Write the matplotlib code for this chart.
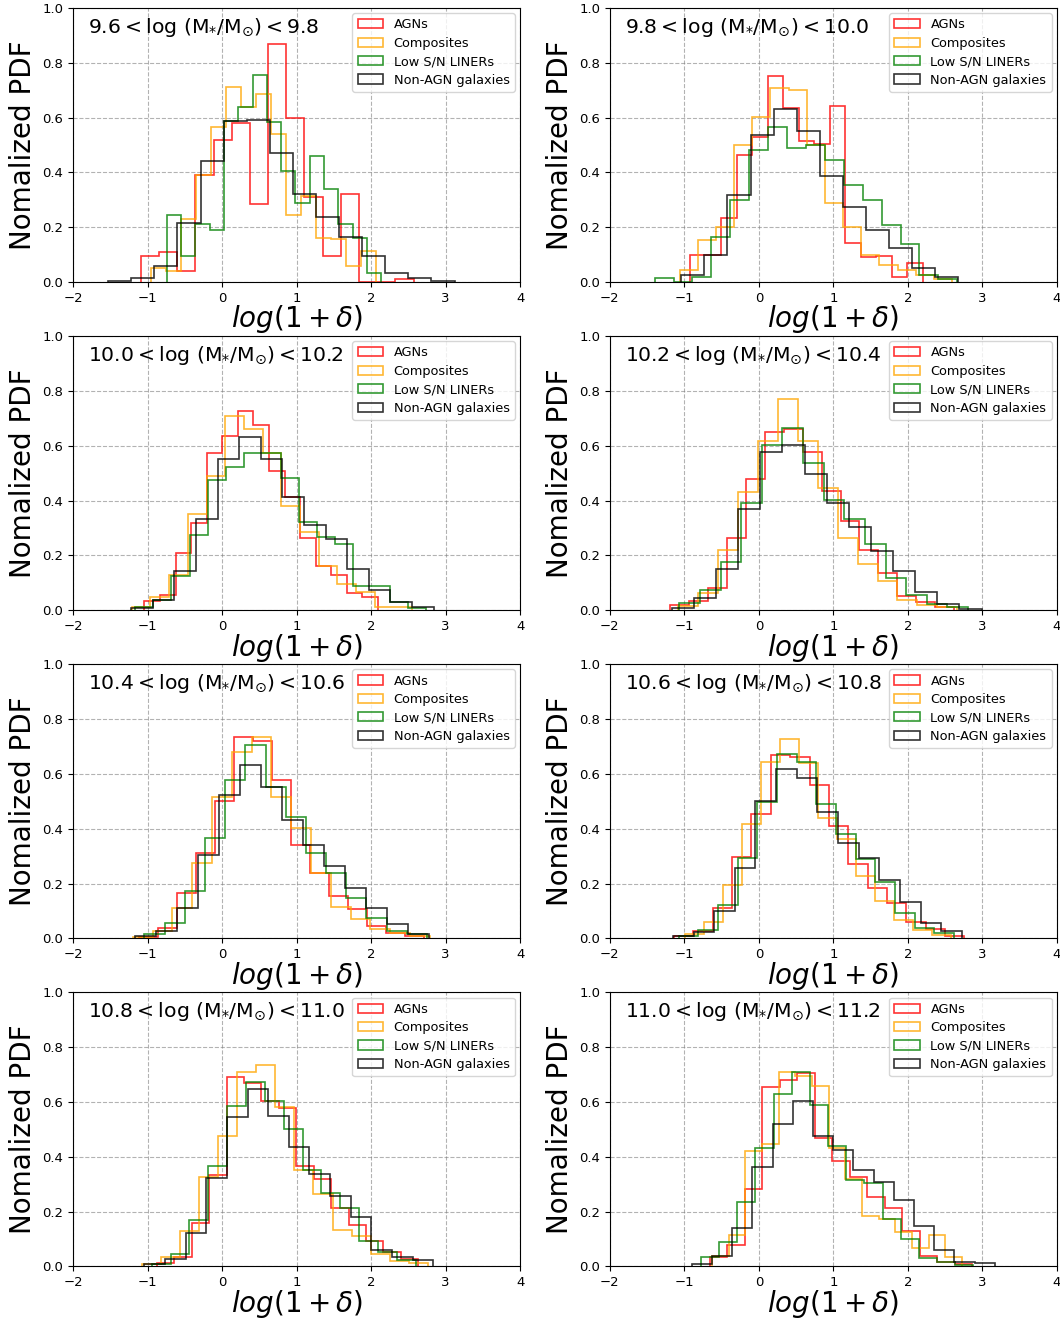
import numpy as np
import matplotlib
matplotlib.use("Agg")
import matplotlib.pyplot as plt


# stellar mass bins (one panel each)
mass_lo = [9.6, 9.8, 10.0, 10.2, 10.4, 10.6, 10.8, 11.0]
mass_hi = [9.8, 10.0, 10.2, 10.4, 10.6, 10.8, 11.0, 11.2]

labels = ["AGNs", "Composites", "Low S/N LINERs", "Non-AGN galaxies"]
colors = ["red", "orange", "green", "black"]

# left edge of first bin, bin width, normalized PDF per bin
agn_start = [-1.09, -0.922, -1.043, -1.19, -1.11, -1.14, -0.877, -0.662]
agn_width = [0.244, 0.208, 0.209, 0.254, 0.255, 0.26, 0.234, 0.235]
agn_pdf = [
    [0.094, 0.108, 0.039, 0.39, 0.52, 0.58, 0.286, 0.87, 0.6, 0.31, 0.094, 0.32, 0, 0, 0.012],
    [0.1, 0.1, 0.234, 0.465, 0.528, 0.75, 0.635, 0.516, 0.504, 0.644, 0.142, 0.09, 0.096, 0.018, 0.069],
    [0.033, 0.057, 0.207, 0.319, 0.572, 0.637, 0.726, 0.674, 0.507, 0.414, 0.264, 0.16, 0.13, 0.061, 0.047],
    [0.018, 0.033, 0.082, 0.264, 0.48, 0.651, 0.662, 0.578, 0.434, 0.325, 0.221, 0.136, 0.05, 0.03, 0.012],
    [0.005, 0.039, 0.167, 0.313, 0.501, 0.735, 0.72, 0.578, 0.339, 0.24, 0.155, 0.106, 0.045, 0.021, 0.01],
    [0.01, 0.027, 0.112, 0.298, 0.455, 0.669, 0.66, 0.56, 0.41, 0.27, 0.185, 0.13, 0.06, 0.035, 0.01],
    [0.012, 0.035, 0.16, 0.333, 0.692, 0.669, 0.605, 0.577, 0.367, 0.319, 0.212, 0.152, 0.094, 0.051, 0.027],
    [0.033, 0.079, 0.282, 0.656, 0.681, 0.706, 0.467, 0.386, 0.325, 0.255, 0.213, 0.13, 0.039, 0.015, 0.008],
]

comp_start = [-0.953, -1.065, -1.213, -1.087, -1.2, -0.989, -1.078, -0.631]
comp_width = [0.201, 0.244, 0.251, 0.268, 0.266, 0.255, 0.256, 0.224]
comp_pdf = [
    [0.05, 0.04, 0.23, 0.39, 0.567, 0.71, 0.637, 0.686, 0.54, 0.246, 0.313, 0.16, 0.158, 0.06, 0.112],
    [0.045, 0.152, 0.2, 0.5, 0.602, 0.708, 0.702, 0.5, 0.29, 0.2, 0.1, 0.063, 0.045, 0.027, 0.012],
    [0.011, 0.047, 0.13, 0.352, 0.49, 0.708, 0.66, 0.572, 0.38, 0.285, 0.16, 0.097, 0.066, 0.012, 0.01],
    [0.017, 0.063, 0.218, 0.43, 0.617, 0.769, 0.617, 0.444, 0.264, 0.167, 0.108, 0.039, 0.019, 0.01],
    [0.005, 0.027, 0.112, 0.274, 0.516, 0.678, 0.735, 0.516, 0.404, 0.24, 0.116, 0.069, 0.033, 0.02, 0.01],
    [0.015, 0.06, 0.195, 0.416, 0.645, 0.726, 0.641, 0.44, 0.364, 0.227, 0.136, 0.067, 0.029, 0.012],
    [0.01, 0.033, 0.128, 0.327, 0.477, 0.708, 0.735, 0.583, 0.352, 0.266, 0.134, 0.112, 0.047, 0.021, 0.011],
    [0.039, 0.116, 0.42, 0.446, 0.708, 0.696, 0.66, 0.434, 0.319, 0.185, 0.175, 0.124, 0.066, 0.114, 0.033],
]

liner_start = [-0.743, -1.40, -1.168, -1.069, -1.043, -1.078, -0.944, -0.779]
liner_width = [0.192, 0.254, 0.244, 0.277, 0.271, 0.264, 0.253, 0.244]
liner_pdf = [
    [0.246, 0.096, 0.213, 0.19, 0.586, 0.64, 0.757, 0.583, 0.406, 0.288, 0.459, 0.34, 0.21, 0.16, 0.033],
    [0.015, 0.0, 0.02, 0.163, 0.298, 0.48, 0.566, 0.489, 0.499, 0.444, 0.353, 0.298, 0.207, 0.14, 0.027, 0.01],
    [0.01, 0.039, 0.124, 0.274, 0.474, 0.523, 0.572, 0.572, 0.483, 0.321, 0.266, 0.243, 0.09, 0.088, 0.03, 0.008],
    [0.027, 0.075, 0.175, 0.392, 0.602, 0.663, 0.538, 0.401, 0.333, 0.24, 0.116, 0.055, 0.024, 0.01],
    [0.015, 0.057, 0.173, 0.367, 0.577, 0.706, 0.552, 0.443, 0.313, 0.24, 0.148, 0.075, 0.027, 0.017],
    [0.01, 0.029, 0.122, 0.294, 0.499, 0.672, 0.645, 0.491, 0.38, 0.29, 0.207, 0.094, 0.039, 0.021],
    [0.01, 0.045, 0.17, 0.365, 0.586, 0.672, 0.602, 0.501, 0.352, 0.268, 0.215, 0.094, 0.051, 0.023],
    [0.035, 0.088, 0.234, 0.431, 0.629, 0.708, 0.59, 0.438, 0.315, 0.304, 0.175, 0.1, 0.03, 0.017, 0.005],
]

nonagn_start = [-1.53, -1.042, -1.221, -1.168, -1.168, -1.154, -1.043, -0.899]
nonagn_width = [0.31, 0.31, 0.29, 0.297, 0.282, 0.277, 0.277, 0.271]
nonagn_pdf = [
    [0.003, 0.015, 0.06, 0.215, 0.44, 0.586, 0.592, 0.47, 0.32, 0.236, 0.164, 0.094, 0.033, 0.015, 0.003],
    [0.027, 0.1, 0.319, 0.538, 0.633, 0.552, 0.386, 0.274, 0.189, 0.124, 0.051, 0.017],
    [0.009, 0.039, 0.142, 0.331, 0.552, 0.633, 0.55, 0.412, 0.31, 0.258, 0.151, 0.075, 0.03, 0.012],
    [0.009, 0.045, 0.152, 0.37, 0.578, 0.602, 0.498, 0.392, 0.304, 0.215, 0.142, 0.066, 0.021, 0.005],
    [0.009, 0.027, 0.112, 0.303, 0.523, 0.633, 0.552, 0.432, 0.339, 0.264, 0.185, 0.112, 0.051, 0.017],
    [0.008, 0.024, 0.1, 0.255, 0.501, 0.619, 0.586, 0.461, 0.349, 0.292, 0.212, 0.134, 0.057, 0.027],
    [0.008, 0.027, 0.122, 0.322, 0.546, 0.647, 0.55, 0.437, 0.337, 0.258, 0.181, 0.06, 0.033, 0.023],
    [0.008, 0.039, 0.139, 0.364, 0.519, 0.602, 0.477, 0.425, 0.352, 0.309, 0.243, 0.148, 0.06, 0.018, 0.012],
]

starts = [agn_start, comp_start, liner_start, nonagn_start]
widths = [agn_width, comp_width, liner_width, nonagn_width]
pdfs = [agn_pdf, comp_pdf, liner_pdf, nonagn_pdf]


fig, axes = plt.subplots(4, 2, figsize=(10.6, 13.22), dpi=100)
plt.subplots_adjust(left=0.069, right=0.997, top=0.994, bottom=0.042,
                    wspace=0.201, hspace=0.197)

for i, ax in enumerate(axes.flat):
    for k in range(4):
        h = np.array(pdfs[k][i])
        edges = starts[k][i] + widths[k][i] * np.arange(len(h) + 1)
        centers = 0.5 * (edges[:-1] + edges[1:])
        ax.hist(centers, bins=edges, weights=h, histtype='step',
                color=colors[k], lw=1.2, alpha=0.8, label=labels[k])

    ax.set_xlim(-2, 4)
    ax.set_ylim(0, 1)
    ax.set_xticks([-2, -1, 0, 1, 2, 3, 4])
    ax.set_yticks([0.0, 0.2, 0.4, 0.6, 0.8, 1.0])
    ax.tick_params(labelsize=9.5)
    ax.grid(ls='--', color='gray', alpha=0.6, lw=0.8)
    ax.set_xlabel(r'$log(1+\delta)$', fontsize=20, labelpad=-1)
    ax.set_ylabel('Nomalized PDF', fontsize=20)
    ax.text(0.034, 0.93,
            r'$%.1f < \log\,(\mathrm{M_{*}/M_{\odot}}) < %.1f$' % (mass_lo[i], mass_hi[i]),
            transform=ax.transAxes, fontsize=14.7, va='center', ha='left')
    ax.legend(loc='upper right', fontsize=9.3, handlelength=2.0,
              labelspacing=0.42, borderaxespad=0.4)

plt.savefig("out.png")
